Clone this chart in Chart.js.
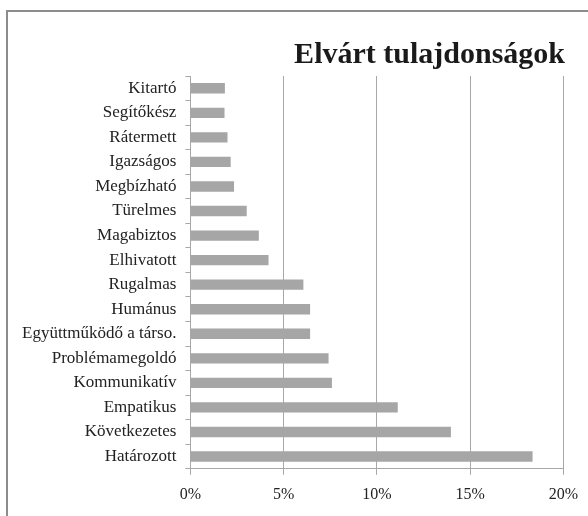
<!DOCTYPE html>
<html>
<head>
<meta charset="utf-8">
<script src="https://cdn.jsdelivr.net/npm/chart.js@4"></script>
<style>
  html, body { margin: 0; padding: 0; background: #fff; }
  #wrap { position: relative; width: 588px; height: 516px; overflow: hidden; }
  #frame { position: absolute; left: 6px; top: 10px; width: 700px; height: 700px;
           border-left: 2px solid #8c8c8c; border-top: 2px solid #8c8c8c; }
  #chart { position: absolute; left: 0; top: 0; }
</style>
</head>
<body>
<div id="wrap">
  <div id="frame"></div>
  <canvas id="chart" width="588" height="516"></canvas>
</div>
<script>
// tulajdonságok, fentről lefelé
const traits = ['Kitartó', 'Segítőkész', 'Rátermett', 'Igazságos', 'Megbízható', 'Türelmes',
  'Magabiztos', 'Elhivatott', 'Rugalmas', 'Humánus', 'Együttműködő a társo.', 'Problémamegoldó',
  'Kommunikatív', 'Empatikus', 'Következetes', 'Határozott'];
const shares = [1.85, 1.83, 1.99, 2.16, 2.34, 3.02, 3.67, 4.19, 6.06, 6.42, 6.42, 7.41, 7.59, 11.12, 13.97, 18.35];
const xTicks = [0, 5, 10, 15, 20];

const serif = '"Liberation Serif", "DejaVu Serif", serif';

function initChart() {
  const ctx = document.getElementById('chart').getContext('2d');
  new Chart(ctx, {
    type: 'bar',
    data: {
      labels: traits,
      datasets: [{ data: shares, backgroundColor: '#a6a6a6', borderWidth: 0,
                   categoryPercentage: 1, barPercentage: 0.42 }]
    },
    options: {
      indexAxis: 'y',
      responsive: false,
      animation: false,
      layout: { padding: { left: 13, right: 23, top: 0, bottom: 2 } },
      plugins: {
        legend: { display: false },
        tooltip: { enabled: false },
        title: {
          display: true, text: 'Elvárt tulajdonságok', align: 'end',
          color: '#1a1a1a', font: { family: serif, size: 30, weight: 'bold' },
          padding: { top: 37, bottom: 3 }
        }
      },
      scales: {
        x: {
          min: 0, max: 20,
          afterBuildTicks: axis => { axis.ticks = xTicks.map(v => ({ value: v })); },
          ticks: { callback: v => v + '%', color: '#222', font: { family: serif, size: 16 }, padding: 10, maxRotation: 0 },
          grid: { color: '#a8a8a8', lineWidth: 1, tickLength: 6 },
          border: { color: '#a8a8a8' }
        },
        y: {
          ticks: { color: '#222', font: { family: serif, size: 17 }, padding: 9, autoSkip: false },
          grid: { drawOnChartArea: false, color: '#a8a8a8', tickLength: 5, offset: true },
          border: { color: '#a8a8a8' }
        }
      }
    }
  });
}

initChart();
</script>
</body>
</html>
